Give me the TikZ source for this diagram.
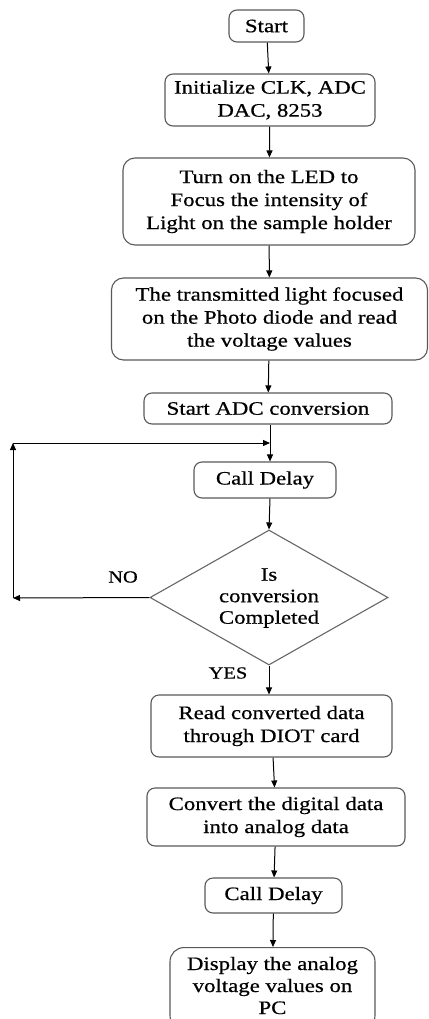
\documentclass[tikz,border=0pt]{standalone}
\usepackage{fontspec}
\setmainfont[FakeStretch=1.2,FakeBold=0.6]{Liberation Serif}
\usetikzlibrary{shapes.geometric,arrows.meta}
\begin{document}
\begin{tikzpicture}[x=1pt,y=-1pt,
  every node/.style={font=\fontsize{19}{23}\selectfont, align=center, inner sep=0pt},
  procbox/.style={draw=black!65, line width=1.1pt, rounded corners=8pt},
  decision/.style={diamond, draw=black!60, line width=1.1pt, shape aspect=1.76,
                   minimum width=238pt, minimum height=135pt},
  flow/.style={line width=1pt, -{Triangle[length=7pt,width=6pt]}},
  tag/.style={font=\fontsize{17}{20}\selectfont}]
\useasboundingbox (0,0) rectangle (428,1019);
\clip (0,0) rectangle (428,1019);

% process steps
\node[procbox, minimum width=75pt, minimum height=32pt] (start) at (266.5,26) {Start};
\node[procbox, minimum width=210pt, minimum height=52pt] (init) at (270,100) {Initialize CLK, ADC\\DAC, 8253};
\node[procbox, minimum width=292pt, minimum height=87pt, rounded corners=12pt] (led) at (269,201.5) {Turn on the LED to\\Focus the intensity of\\Light on the sample holder};
\node[procbox, minimum width=316pt, minimum height=82pt, rounded corners=12pt] (trans) at (269.5,319) {The transmitted light focused\\on the Photo diode and read\\the voltage values};
\node[procbox, minimum width=248pt, minimum height=31pt] (adc) at (268,408.5) {Start ADC conversion};
\node[procbox, minimum width=142pt, minimum height=36pt] (delayA) at (265,480) {Call Delay};
\node[decision] (check) at (269,597.5) {};
\node[font=\fontsize{19}{21.5}\selectfont] (checktxt) at (269,598) {Is\\conversion\\Completed};
\node[procbox, minimum width=241pt, minimum height=62pt] (read) at (271.5,726) {Read converted data\\through DIOT card};
\node[procbox, minimum width=258pt, minimum height=58pt] (conv) at (276,817) {Convert the digital data\\into analog data};
\node[procbox, minimum width=137pt, minimum height=35pt] (delayB) at (273.5,895.5) {Call Delay};
\node[procbox, minimum width=205pt, minimum height=82pt, rounded corners=14pt, anchor=north] (show) at (272.5,947) {};
\node[font=\fontsize{19}{22}\selectfont] (showtxt) at (272.5,985.5) {Display the analog\\voltage values on\\PC};

% branch labels
\node[tag] (no) at (123,577) {NO};
\node[tag] (yes) at (228,673) {YES};

% loop-back route
\coordinate (loopbot) at (13,598);
\coordinate (looptop) at (13,443);
\coordinate (merge) at (270,443);

% connectors
\draw[flow] (start) -- (init);
\draw[flow] (init) -- (led);
\draw[flow] (led) -- (trans);
\draw[flow] (trans) -- (adc);
\draw[line width=1pt] (adc.south -| merge) -- (merge);
\draw[flow] (merge) -- (delayA.north -| merge);
\draw[flow] (delayA.south -| merge) -- (check.north);
\draw[flow] (check.west) -- (loopbot);
\draw[flow] (loopbot) -- (looptop);
\draw[flow] (looptop) -- (merge);
\draw[flow] (check.south) -- (read.north -| check.south);
\draw[flow] (read) -- (conv);
\draw[flow] (conv) -- (delayB);
\draw[flow] (delayB) -- (show);
\end{tikzpicture}
\end{document}
